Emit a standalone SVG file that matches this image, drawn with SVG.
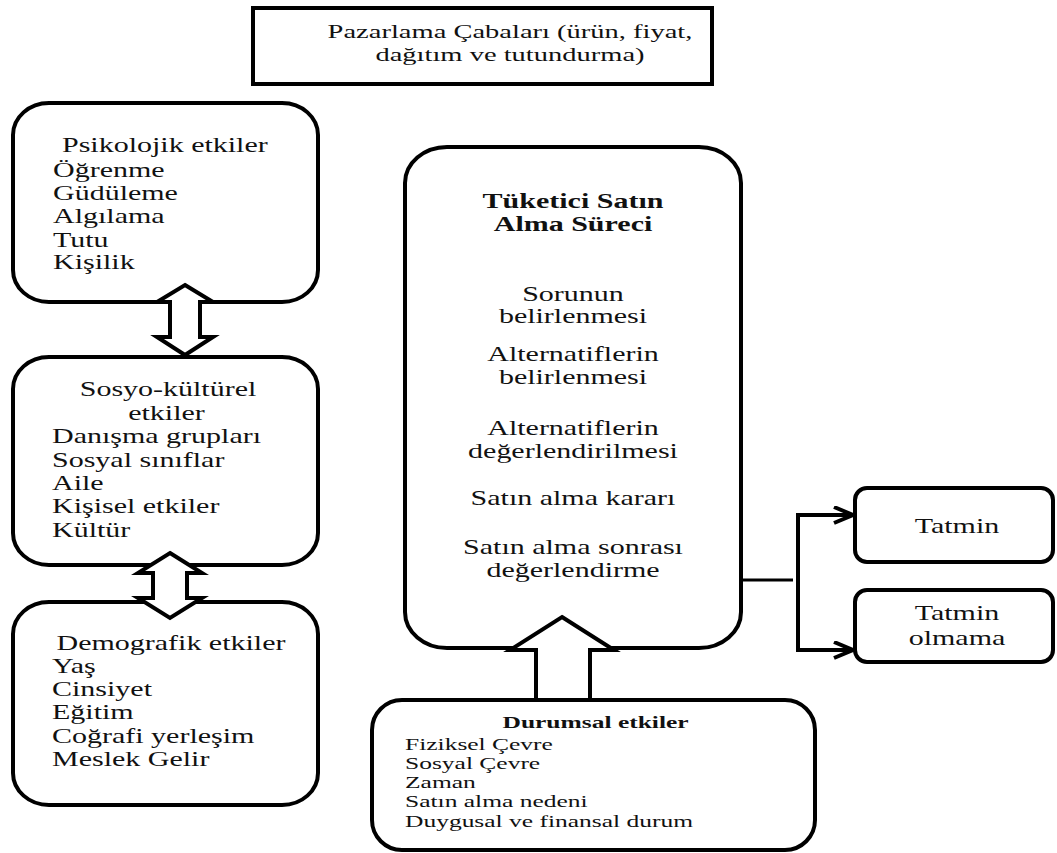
<svg xmlns="http://www.w3.org/2000/svg" width="1057" height="853" viewBox="0 0 1057 853">
<style>
.box{fill:#fff;stroke:#000;stroke-width:4}
.arr{fill:#fff;stroke:#000;stroke-width:4;stroke-linejoin:miter}
.ln{fill:none;stroke:#000;stroke-width:4}
text{font-family:"Liberation Serif","Times New Roman",serif;font-size:20px;fill:#111}
.b{font-weight:bold}
.s{font-size:17px}
.t{font-size:19px}
.m{text-anchor:middle}
</style>
<defs>
<marker id="chev" markerUnits="userSpaceOnUse" markerWidth="24" markerHeight="20" refX="20" refY="9" orient="auto">
<path d="M1,1 L20,9 L1,17" fill="none" stroke="#000" stroke-width="4"/>
</marker>
</defs>
<g id="pazarlama">
<rect class="box" x="253" y="8" width="459" height="76" stroke-width="5"/>
<g transform="translate(510,0) scale(1.5,1)">
<text class="m t" x="0" y="38">Pazarlama Çabaları (ürün, fiyat,</text>
<text class="m t" x="0" y="61">dağıtım ve tutundurma)</text>
</g>
</g>
<g id="psikolojik">
<rect class="box" x="13" y="103" width="305" height="199" rx="36" ry="32"/>
<g transform="translate(53,0) scale(1.5,1)">
<text x="6" y="152">Psikolojik etkiler</text>
<text x="0" y="177">Öğrenme</text>
<text x="0" y="200">Güdüleme</text>
<text x="0" y="223">Algılama</text>
<text x="0" y="247">Tutu</text>
<text x="0" y="269">Kişilik</text>
</g>
</g>
<g id="sosyo">
<rect class="box" x="13" y="357" width="305" height="208" rx="36" ry="32"/>
<g transform="translate(168,0) scale(1.5,1)">
<text class="m" x="0" y="396">Sosyo-kültürel</text>
<text class="m" x="-1" y="420">etkiler</text>
</g>
<g transform="translate(52,0) scale(1.5,1)">
<text x="0" y="443">Danışma grupları</text>
<text x="0" y="467">Sosyal sınıflar</text>
<text x="0" y="490">Aile</text>
<text x="0" y="513">Kişisel etkiler</text>
<text x="0" y="537">Kültür</text>
</g>
</g>
<g id="demografik">
<rect class="box" x="13" y="602" width="305" height="203" rx="36" ry="32"/>
<g transform="translate(52,0) scale(1.5,1)">
<text x="3" y="650">Demografik etkiler</text>
<text x="0" y="673">Yaş</text>
<text x="0" y="696">Cinsiyet</text>
<text x="0" y="719">Eğitim</text>
<text x="0" y="743">Coğrafi yerleşim</text>
<text x="0" y="766">Meslek Gelir</text>
</g>
</g>
<g id="surec">
<rect class="box" x="405" y="147" width="336" height="501" rx="42" ry="36"/>
<g transform="translate(573,0) scale(1.5,1)">
<text class="m b" x="0" y="208">Tüketici Satın</text>
<text class="m b" x="0" y="231">Alma Süreci</text>
<text class="m" x="0" y="301">Sorunun</text>
<text class="m" x="0" y="323">belirlenmesi</text>
<text class="m" x="0" y="361">Alternatiflerin</text>
<text class="m" x="0" y="384">belirlenmesi</text>
<text class="m" x="0" y="435">Alternatiflerin</text>
<text class="m" x="0" y="458">değerlendirilmesi</text>
<text class="m" x="0" y="505">Satın alma kararı</text>
<text class="m" x="0" y="554">Satın alma sonrası</text>
<text class="m" x="0" y="577">değerlendirme</text>
</g>
</g>
<g id="tatmin">
<rect class="box" x="855" y="488" width="198" height="74" rx="12"/>
<g transform="translate(957,0) scale(1.5,1)">
<text class="m" x="0" y="533">Tatmin</text>
</g>
</g>
<g id="tatmin-olmama">
<rect class="box" x="855" y="590" width="198" height="72" rx="12"/>
<g transform="translate(957,0) scale(1.5,1)">
<text class="m" x="0" y="620">Tatmin</text>
<text class="m" x="0" y="645">olmama</text>
</g>
</g>
<g id="durumsal">
<rect class="box" x="372" y="700" width="443" height="150" rx="30"/>
<g transform="translate(405,0) scale(1.5,1)">
<text class="s b" x="65" y="728">Durumsal etkiler</text>
<text class="s" x="0" y="750">Fiziksel Çevre</text>
<text class="s" x="0" y="769">Sosyal Çevre</text>
<text class="s" x="0" y="788">Zaman</text>
<text class="s" x="0" y="807">Satın alma nedeni</text>
<text class="s" x="0" y="827">Duygusal ve finansal durum</text>
</g>
</g>
<g id="connectors">
<path class="arr" d="M185,285 L213,302 L200,302 L200,337 L213,337 L185,355 L157,337 L170,337 L170,302 L157,302 Z"/>
<path class="arr" d="M170,553 L202,573 L187,573 L187,598 L202,598 L170,618 L138,598 L153,598 L153,573 L138,573 Z"/>
<path class="arr" d="M562,617 L614,650 L590,650 L590,700 L536,700 L536,650 L510,650 Z"/>
<line x1="741" y1="580" x2="793" y2="580" stroke="#000" stroke-width="3"/>
<line class="ln" x1="798" y1="513" x2="798" y2="652"/>
<line class="ln" x1="796" y1="515" x2="853" y2="515" marker-end="url(#chev)"/>
<line class="ln" x1="796" y1="650" x2="853" y2="650" marker-end="url(#chev)"/>
</g>
</svg>
